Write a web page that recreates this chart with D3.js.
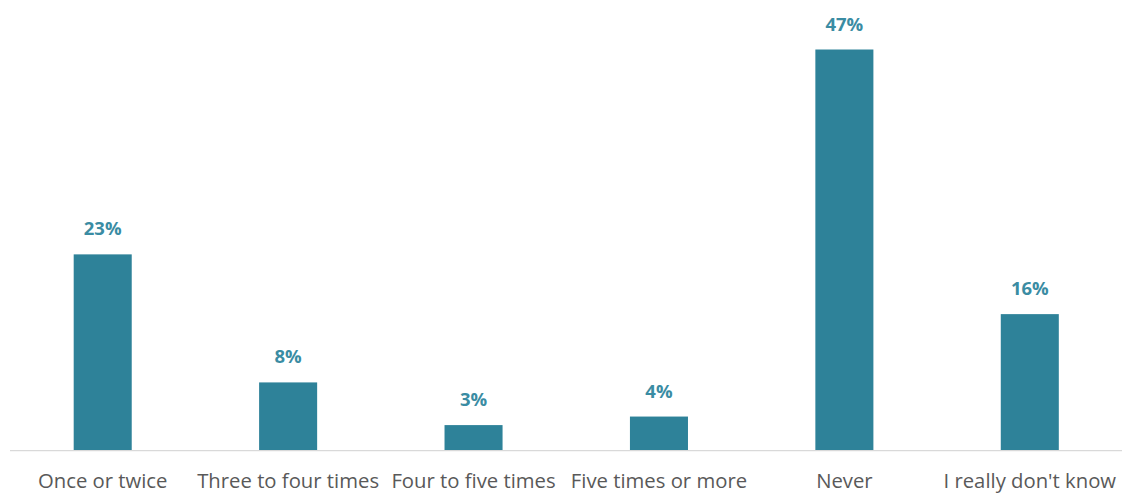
<!DOCTYPE html>
<html>
<head>
<meta charset="utf-8">
<script src="https://cdn.jsdelivr.net/npm/d3@7"></script>
<style>
  html, body { margin: 0; padding: 0; background: #ffffff; }
  svg { display: block; }
</style>
</head>
<body>
<svg id="chart" width="1128" height="497"></svg>
<script>
const categories = ["Once or twice", "Three to four times", "Four to five times", "Five times or more", "Never", "I really don't know"];
const values = [23, 8, 3, 4, 47, 16];
const labelFormat = v => Math.round(v) + "%";

const W = 1128, H = 497;
const svg = d3.select("#chart");
const axisY = 450.7;

const x = d3.scaleBand()
  .domain(categories)
  .range([10, 1122.5])
  .paddingInner(0.687)
  .paddingOuter(0.3435);

const y = d3.scaleLinear()
  .domain([0, 52.8])
  .range([axisY, 0]);

const barColor = "#2e8299";
const labelColor = "#3a8ca3";

svg.selectAll("rect.bar")
  .data(values)
  .join("rect")
  .attr("class", "bar")
  .attr("x", (d, i) => x(categories[i]))
  .attr("width", x.bandwidth())
  .attr("y", d => y(d))
  .attr("height", d => axisY - y(d))
  .attr("fill", barColor);

const xAxis = d3.axisBottom(x).tickSize(0).tickPadding(0);
const gx = svg.append("g")
  .attr("transform", `translate(0,${axisY})`)
  .call(xAxis);
gx.select(".domain").attr("stroke", "#d9d9d9").attr("stroke-width", 1.2).attr("d", "M10,0H1122");
gx.selectAll(".tick text")
  .attr("y", 37)
  .attr("dy", null)
  .attr("fill", "#595959")
  .style("font-family", "'Open Sans', sans-serif")
  .style("font-size", "20.3px");

svg.selectAll("text.val")
  .data(values)
  .join("text")
  .attr("class", "val")
  .attr("x", (d, i) => x(categories[i]) + x.bandwidth() / 2)
  .attr("y", d => y(d) - 19)
  .attr("text-anchor", "middle")
  .attr("fill", labelColor)
  .style("font-family", "'Open Sans', sans-serif")
  .style("font-weight", "bold")
  .style("font-size", "18.5px")
  .text(labelFormat);
</script>
</body>
</html>
